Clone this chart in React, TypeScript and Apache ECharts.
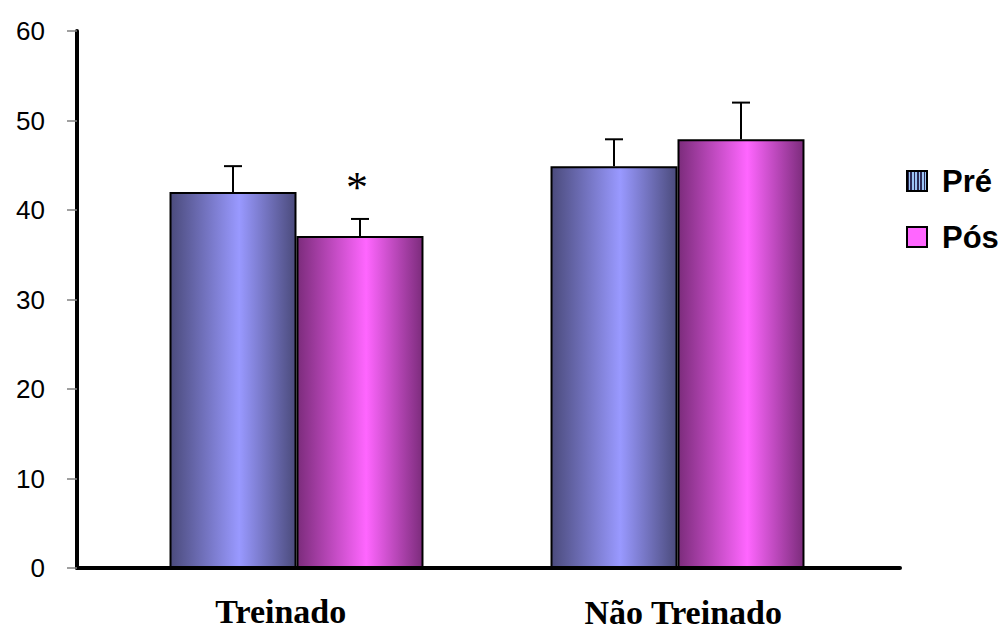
import React, { useEffect, useRef } from "react";
import * as echarts from "echarts";

const categories = ["Treinado", "Não Treinado"];
const preValues = [42.0, 44.9];
const posValues = [37.1, 47.9];
const preErrors = [2.9, 3.0];
const posErrors = [1.9, 4.1];
const preMarks = ["", ""];
const posMarks = ["*", ""];
const yTicks = [0, 10, 20, 30, 40, 50, 60];

const blueGrad = new echarts.graphic.LinearGradient(0, 0, 1, 0, [
  { offset: 0, color: "#4b4b7c" },
  { offset: 0.55, color: "#9999ff" },
  { offset: 1, color: "#4b4b7c" },
]);
const pinkGrad = new echarts.graphic.LinearGradient(0, 0, 1, 0, [
  { offset: 0, color: "#7c2c7c" },
  { offset: 0.55, color: "#ff66ff" },
  { offset: 1, color: "#7c2c7c" },
]);
const stripeStops: { offset: number; color: string }[] = [];
for (let i = 0; i < 6; i++) {
  const a = i / 6;
  const b = (i + 0.5) / 6;
  const c = (i + 1) / 6;
  stripeStops.push({ offset: a, color: "#2a2a55" });
  stripeStops.push({ offset: b - 0.001, color: "#2a2a55" });
  stripeStops.push({ offset: b, color: "#9cc4f4" });
  stripeStops.push({ offset: c - 0.001, color: "#9cc4f4" });
}
const stripeGrad = new echarts.graphic.LinearGradient(0, 0, 1, 0, stripeStops);

function errorSeries(name: string, values: number[], errors: number[], marks: string[], side: number) {
  return {
    type: "custom",
    name: name + "_err",
    xAxisIndex: 1,
    yAxisIndex: 1,
    z: 10,
    silent: true,
    data: values.map((v, i) => [i, v, errors[i], i]),
    renderItem: (params: any, api: any) => {
      const idx = api.value(0);
      const v = api.value(1);
      const e = api.value(2);
      const band = api.size([1, 0])[0];
      const base = api.coord([idx, v]);
      const top = api.coord([idx, v + e]);
      const cx = base[0] + (side * band) / 6;
      const children: any[] = [
        { type: "line", shape: { x1: cx, y1: base[1], x2: cx, y2: top[1] }, style: { stroke: "#000", lineWidth: 2 } },
        { type: "line", shape: { x1: cx - 9, y1: top[1], x2: cx + 9, y2: top[1] }, style: { stroke: "#000", lineWidth: 2 } },
      ];
      const m = marks[api.value(3)];
      if (m) {
        children.push({
          type: "text",
          x: cx - 3,
          y: top[1] - 31,
          style: {
            text: m,
            fill: "#000",
            font: "44px 'Liberation Serif', 'Times New Roman', serif",
            align: "center",
            verticalAlign: "middle",
          },
        });
      }
      return { type: "group", children };
    },
  };
}

export default function App() {
  const ref = useRef<HTMLDivElement>(null);
  useEffect(() => {
    if (!ref.current) return;
    const chart = echarts.init(ref.current, null, { renderer: "svg" });
    const labelFont = {
      fontFamily: "'Liberation Serif', 'Times New Roman', serif",
      fontWeight: "bold",
      fontSize: 34,
      lineHeight: 28,
      color: "#000",
    };
    chart.setOption({
      animation: false,
      backgroundColor: "#ffffff",
      legend: {
        orient: "vertical",
        left: 906,
        top: 165,
        padding: 0,
        itemWidth: 20,
        itemHeight: 20,
        itemGap: 24,
        icon: "rect",
        selectedMode: false,
        itemStyle: { borderColor: "#000", borderWidth: 2 },
        textStyle: {
          fontFamily: "'Liberation Sans', Arial, sans-serif",
          fontWeight: "bold",
          fontSize: 31,
          lineHeight: 32,
          color: "#000",
          padding: [0, 0, 0, 10],
        },
        data: [
          { name: "Pré", itemStyle: { color: stripeGrad, borderColor: "#000", borderWidth: 2 } },
          { name: "Pós", itemStyle: { color: "#ff66ff", borderColor: "#000", borderWidth: 2 } },
        ],
      },
      grid: [
        { left: 77, right: 108, top: 31, bottom: 63 },
        { left: 106, width: 762, top: 31, bottom: 63 },
      ],
      xAxis: [
        {
          type: "category",
          gridIndex: 0,
          data: categories,
          axisLine: { lineStyle: { color: "#000", width: 4 } },
          axisTick: { show: false },
          axisLabel: {
            margin: 29,
            formatter: (v: string, i: number) => (i === 0 ? `{a|${v}}` : `{b|${v}}`),
            rich: {
              a: { ...labelFont, padding: [0, 4, 0, 0] },
              b: { ...labelFont, padding: [2, 22, 0, 0] },
            },
          },
        },
        { type: "category", gridIndex: 1, data: categories, show: false },
      ],
      yAxis: [
        {
          type: "value",
          gridIndex: 0,
          min: 0,
          max: 60,
          interval: 10,
          splitLine: { show: false },
          axisLine: { show: true, lineStyle: { color: "#000", width: 4 } },
          axisTick: { show: true, length: 10, lineStyle: { color: "#808080", width: 1.5 } },
          axisLabel: {
            margin: 32,
            color: "#000",
            fontFamily: "'Liberation Sans', Arial, sans-serif",
            fontSize: 26,
            formatter: (v: number) => (yTicks.includes(v) ? String(v) : ""),
          },
        },
        { type: "value", gridIndex: 1, min: 0, max: 60, show: false, splitLine: { show: false } },
      ],
      series: [
        {
          type: "bar",
          name: "Pré",
          xAxisIndex: 1,
          yAxisIndex: 1,
          barWidth: "33.33%",
          barGap: "0%",
          data: preValues,
          itemStyle: { color: blueGrad, borderColor: "#000", borderWidth: 2 },
        },
        {
          type: "bar",
          name: "Pós",
          xAxisIndex: 1,
          yAxisIndex: 1,
          barWidth: "33.33%",
          barGap: "0%",
          data: posValues,
          itemStyle: { color: pinkGrad, borderColor: "#000", borderWidth: 2 },
        },
        errorSeries("Pré", preValues, preErrors, preMarks, -1),
        errorSeries("Pós", posValues, posErrors, posMarks, 1),
      ],
    });
    return () => chart.dispose();
  }, []);
  return <div ref={ref} style={{ position: "absolute", left: 0, top: 0, width: 1008, height: 631 }} />;
}
